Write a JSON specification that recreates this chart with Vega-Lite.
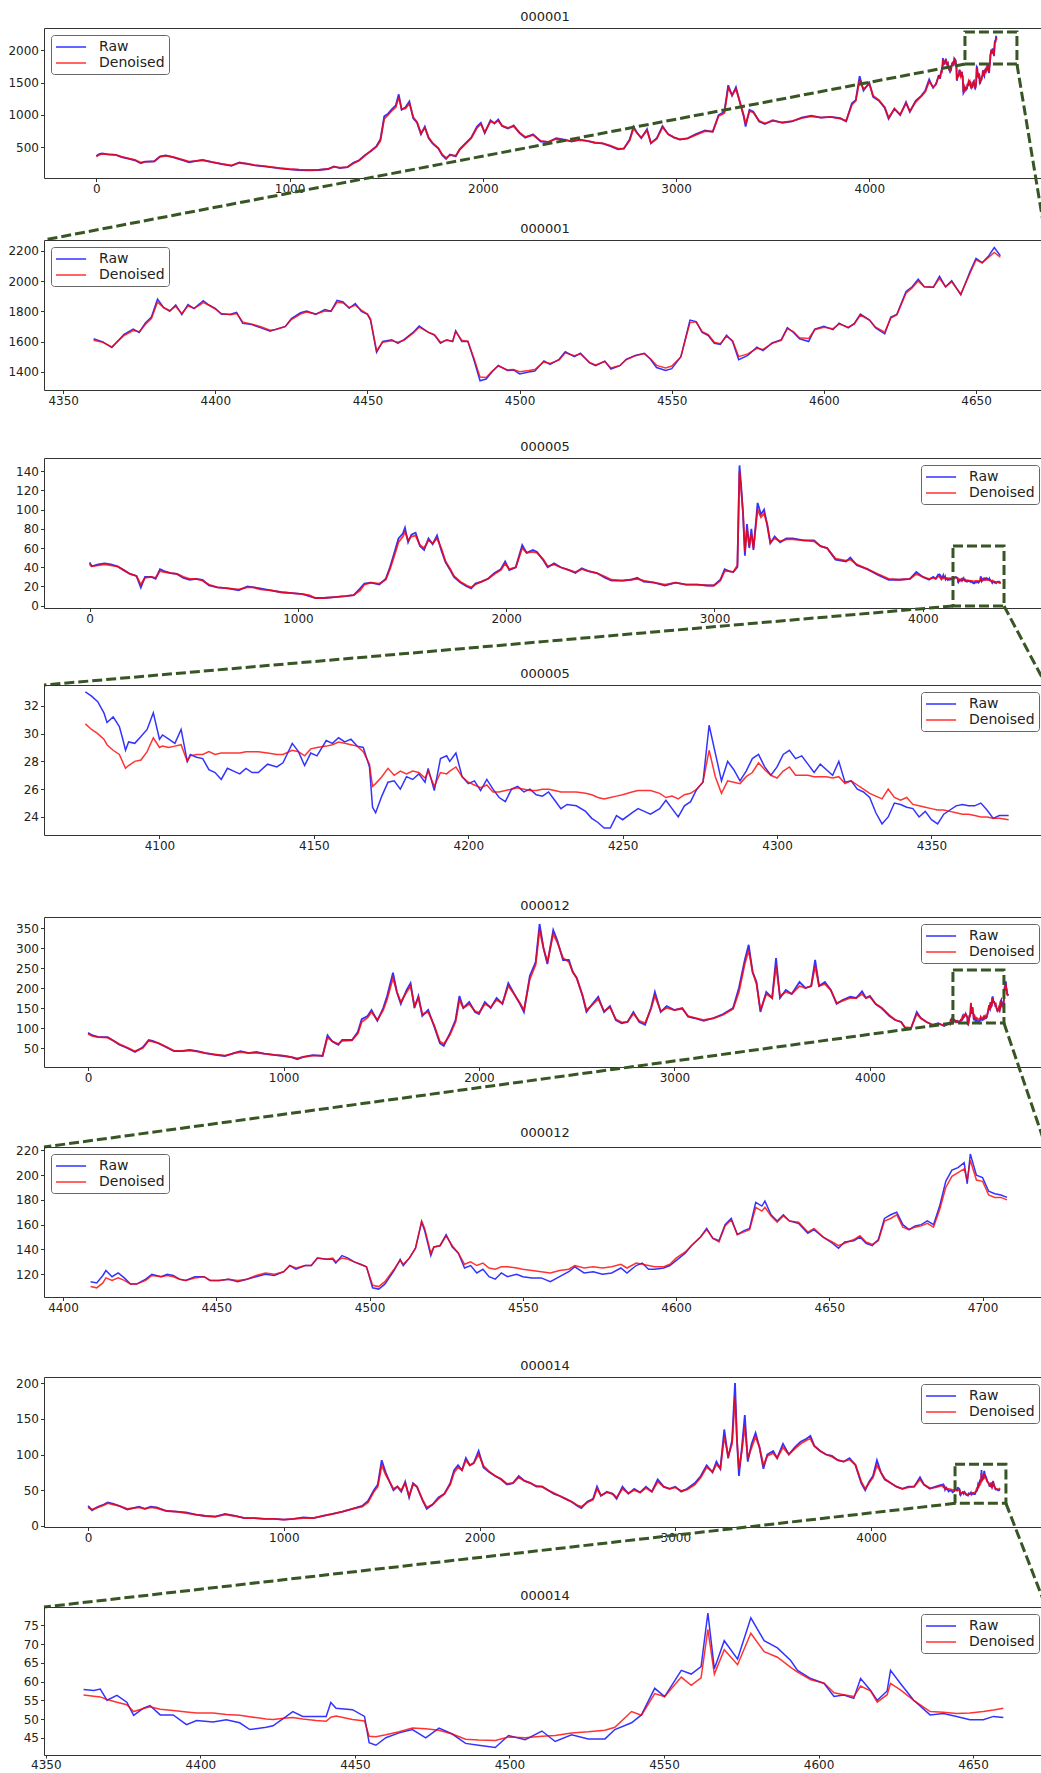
{
  "$schema": "https://vega.github.io/schema/vega-lite/v6.json",
  "background": "white",
  "padding": {"left": 7, "top": 10, "right": 0, "bottom": 0},
  "bounds": "flush",
  "spacing": 0,
  "resolve": {"scale": {"color": "independent"}, "legend": {"color": "independent"}},
  "config": {
    "font": "DejaVu Sans",
    "view": {"stroke": "#333", "strokeWidth": 1},
    "axis": {"domain": false, "grid": false, "tickColor": "#333", "tickSize": 3.5, "labelColor": "#222", "labelFontSize": 12, "labelPadding": 2, "format": "d"},
    "title": {"fontSize": 13, "fontWeight": "normal", "color": "#222", "offset": 4},
    "legend": {"padding": 4, "rowPadding": 1, "offset": 7, "strokeColor": "#666", "cornerRadius": 3, "fillColor": "white", "labelFontSize": 14, "labelColor": "#222", "symbolType": "M-1,0H3.3", "symbolSize": 196, "symbolStrokeWidth": 2, "symbolOpacity": 0.6, "labelOffset": 28},
    "line": {"opacity": 0.8}
  },
  "datasets": {
    "a1": [
      {"t":0,"r":365,"d":360},{"t":15,"r":395,"d":385},{"t":30,"r":405,"d":398},{"t":60,"r":390,"d":392},{"t":100,"r":385,"d":382},{"t":130,"r":350,"d":355},{"t":160,"r":330,"d":335},{"t":200,"r":300,"d":305},{"t":230,"r":255,"d":265},{"t":250,"r":275,"d":278},{"t":300,"r":285,"d":282},{"t":330,"r":360,"d":352},{"t":360,"r":375,"d":370},{"t":400,"r":345,"d":350},{"t":450,"r":300,"d":305},{"t":480,"r":270,"d":278},{"t":520,"r":290,"d":290},{"t":550,"r":305,"d":300},{"t":600,"r":270,"d":272},{"t":650,"r":240,"d":245},{"t":700,"r":215,"d":222},{"t":740,"r":265,"d":258},{"t":780,"r":245,"d":248},{"t":820,"r":220,"d":225},{"t":870,"r":205,"d":208},{"t":900,"r":195,"d":198},{"t":950,"r":175,"d":180},{"t":1000,"r":160,"d":165},{"t":1050,"r":150,"d":155},{"t":1100,"r":145,"d":150},{"t":1150,"r":150,"d":152},{"t":1200,"r":165,"d":168},{"t":1230,"r":205,"d":198},{"t":1260,"r":180,"d":185},{"t":1300,"r":195,"d":195},{"t":1330,"r":260,"d":250},{"t":1360,"r":300,"d":295},{"t":1390,"r":380,"d":370},{"t":1420,"r":440,"d":445},{"t":1450,"r":520,"d":510},{"t":1470,"r":620,"d":600},{"t":1490,"r":980,"d":940},{"t":1510,"r":1020,"d":1000},{"t":1530,"r":1090,"d":1070},{"t":1550,"r":1150,"d":1120},{"t":1565,"r":1320,"d":1280},{"t":1580,"r":1080,"d":1090},{"t":1600,"r":1120,"d":1100},{"t":1620,"r":1210,"d":1180},{"t":1640,"r":950,"d":970},{"t":1660,"r":880,"d":890},{"t":1680,"r":700,"d":720},{"t":1700,"r":820,"d":800},{"t":1720,"r":640,"d":650},{"t":1740,"r":560,"d":570},{"t":1770,"r":480,"d":490},{"t":1790,"r":380,"d":390},{"t":1810,"r":320,"d":335},{"t":1830,"r":390,"d":380},{"t":1860,"r":360,"d":370},{"t":1880,"r":470,"d":460},{"t":1910,"r":560,"d":550},{"t":1940,"r":650,"d":640},{"t":1970,"r":820,"d":800},{"t":1990,"r":880,"d":860},{"t":2010,"r":720,"d":735},{"t":2040,"r":920,"d":900},{"t":2060,"r":870,"d":875},{"t":2080,"r":930,"d":910},{"t":2100,"r":830,"d":835},{"t":2130,"r":790,"d":800},{"t":2160,"r":840,"d":825},{"t":2190,"r":720,"d":730},{"t":2220,"r":650,"d":660},{"t":2260,"r":700,"d":690},{"t":2300,"r":590,"d":600},{"t":2340,"r":580,"d":585},{"t":2380,"r":640,"d":630},{"t":2420,"r":620,"d":615},{"t":2460,"r":590,"d":595},{"t":2500,"r":620,"d":610},{"t":2540,"r":600,"d":600},{"t":2580,"r":570,"d":575},{"t":2620,"r":560,"d":560},{"t":2660,"r":520,"d":525},{"t":2700,"r":470,"d":480},{"t":2730,"r":480,"d":485},{"t":2760,"r":620,"d":610},{"t":2780,"r":820,"d":790},{"t":2800,"r":720,"d":710},{"t":2820,"r":640,"d":650},{"t":2850,"r":780,"d":760},{"t":2870,"r":560,"d":570},{"t":2900,"r":640,"d":630},{"t":2930,"r":830,"d":810},{"t":2960,"r":700,"d":700},{"t":2990,"r":650,"d":655},{"t":3020,"r":620,"d":625},{"t":3060,"r":640,"d":640},{"t":3100,"r":700,"d":690},{"t":3150,"r":760,"d":750},{"t":3190,"r":740,"d":745},{"t":3220,"r":1000,"d":980},{"t":3250,"r":1050,"d":1030},{"t":3270,"r":1460,"d":1420},{"t":3290,"r":1300,"d":1310},{"t":3310,"r":1430,"d":1400},{"t":3330,"r":1200,"d":1210},{"t":3350,"r":980,"d":1000},{"t":3360,"r":820,"d":860},{"t":3380,"r":1080,"d":1060},{"t":3400,"r":1050,"d":1040},{"t":3430,"r":900,"d":910},{"t":3460,"r":860,"d":870},{"t":3500,"r":920,"d":910},{"t":3550,"r":880,"d":885},{"t":3600,"r":900,"d":905},{"t":3650,"r":960,"d":950},{"t":3700,"r":990,"d":980},{"t":3750,"r":960,"d":960},{"t":3800,"r":970,"d":970},{"t":3850,"r":950,"d":945},{"t":3880,"r":900,"d":910},{"t":3910,"r":1180,"d":1160},{"t":3930,"r":1230,"d":1220},{"t":3950,"r":1600,"d":1540},{"t":3970,"r":1380,"d":1400},{"t":4000,"r":1500,"d":1480},{"t":4020,"r":1280,"d":1300},{"t":4050,"r":1220,"d":1230},{"t":4080,"r":1110,"d":1120},{"t":4100,"r":940,"d":960},{"t":4130,"r":1100,"d":1090},{"t":4160,"r":1000,"d":1010},{"t":4190,"r":1200,"d":1180},{"t":4210,"r":1050,"d":1060},{"t":4240,"r":1220,"d":1200},{"t":4270,"r":1300,"d":1290},{"t":4290,"r":1380,"d":1360},{"t":4310,"r":1550,"d":1520},{"t":4330,"r":1420,"d":1430},{"t":4345,"r":1480,"d":1470},{"t":4360,"r":1618,"d":1608}
    ],
    "b1": [
      {"t":4360,"r":1618,"d":1608},{"t":4363,"r":1598,"d":1595},{"t":4366,"r":1560,"d":1565},{"t":4370,"r":1648,"d":1640},{"t":4373,"r":1682,"d":1672},{"t":4375,"r":1660,"d":1665},{"t":4377,"r":1722,"d":1712},{"t":4379,"r":1762,"d":1752},{"t":4381,"r":1880,"d":1860},{"t":4383,"r":1825,"d":1825},{"t":4385,"r":1800,"d":1805},{"t":4387,"r":1842,"d":1832},{"t":4389,"r":1778,"d":1785},{"t":4391,"r":1845,"d":1835},{"t":4393,"r":1818,"d":1820},{"t":4395,"r":1852,"d":1842},{"t":4396,"r":1870,"d":1858},{"t":4398,"r":1840,"d":1840},{"t":4400,"r":1820,"d":1815},{"t":4402,"r":1780,"d":1785},{"t":4405,"r":1780,"d":1778},{"t":4407,"r":1792,"d":1786},{"t":4409,"r":1720,"d":1730},{"t":4412,"r":1712,"d":1715},{"t":4415,"r":1690,"d":1698},{"t":4418,"r":1668,"d":1675},{"t":4420,"r":1682,"d":1680},{"t":4423,"r":1700,"d":1698},{"t":4425,"r":1752,"d":1745},{"t":4428,"r":1790,"d":1782},{"t":4430,"r":1802,"d":1795},{"t":4433,"r":1780,"d":1782},{"t":4436,"r":1812,"d":1802},{"t":4438,"r":1800,"d":1800},{"t":4440,"r":1872,"d":1860},{"t":4442,"r":1862,"d":1855},{"t":4444,"r":1820,"d":1825},{"t":4446,"r":1852,"d":1840},{"t":4448,"r":1800,"d":1808},{"t":4450,"r":1780,"d":1782},{"t":4451,"r":1742,"d":1750},{"t":4453,"r":1528,"d":1540},{"t":4455,"r":1600,"d":1595},{"t":4458,"r":1612,"d":1605},{"t":4460,"r":1588,"d":1595},{"t":4462,"r":1612,"d":1608},{"t":4465,"r":1660,"d":1655},{"t":4467,"r":1702,"d":1695},{"t":4470,"r":1660,"d":1662},{"t":4472,"r":1642,"d":1645},{"t":4474,"r":1588,"d":1595},{"t":4476,"r":1612,"d":1608},{"t":4478,"r":1600,"d":1602},{"t":4479,"r":1672,"d":1665},{"t":4481,"r":1600,"d":1608},{"t":4483,"r":1600,"d":1602},{"t":4485,"r":1478,"d":1490},{"t":4487,"r":1340,"d":1365},{"t":4489,"r":1352,"d":1362},{"t":4491,"r":1400,"d":1405},{"t":4493,"r":1442,"d":1438},{"t":4496,"r":1408,"d":1412},{"t":4498,"r":1412,"d":1415},{"t":4500,"r":1385,"d":1400},{"t":4503,"r":1398,"d":1408},{"t":4505,"r":1405,"d":1415},{"t":4508,"r":1472,"d":1465},{"t":4510,"r":1448,"d":1455},{"t":4513,"r":1482,"d":1478},{"t":4515,"r":1532,"d":1525},{"t":4518,"r":1500,"d":1506},{"t":4520,"r":1522,"d":1518},{"t":4523,"r":1458,"d":1462},{"t":4525,"r":1440,"d":1445},{"t":4528,"r":1470,"d":1468},{"t":4530,"r":1418,"d":1425},{"t":4533,"r":1440,"d":1442},{"t":4535,"r":1482,"d":1478},{"t":4538,"r":1508,"d":1505},{"t":4541,"r":1522,"d":1520},{"t":4543,"r":1482,"d":1486},{"t":4545,"r":1428,"d":1442},{"t":4548,"r":1408,"d":1425},{"t":4550,"r":1420,"d":1438},{"t":4553,"r":1500,"d":1498},{"t":4556,"r":1742,"d":1725},{"t":4558,"r":1732,"d":1730},{"t":4560,"r":1660,"d":1665},{"t":4562,"r":1640,"d":1645},{"t":4564,"r":1588,"d":1595},{"t":4566,"r":1580,"d":1585},{"t":4568,"r":1642,"d":1635},{"t":4570,"r":1600,"d":1605},{"t":4572,"r":1480,"d":1500},{"t":4575,"r":1508,"d":1518},{"t":4578,"r":1562,"d":1555},{"t":4580,"r":1540,"d":1548},{"t":4583,"r":1590,"d":1588},{"t":4586,"r":1612,"d":1608},{"t":4588,"r":1692,"d":1685},{"t":4590,"r":1660,"d":1665},{"t":4592,"r":1618,"d":1625},{"t":4595,"r":1600,"d":1620},{"t":4597,"r":1682,"d":1678},{"t":4600,"r":1700,"d":1695},{"t":4603,"r":1678,"d":1685},{"t":4605,"r":1722,"d":1715},{"t":4608,"r":1690,"d":1695},{"t":4610,"r":1720,"d":1715},{"t":4612,"r":1782,"d":1775},{"t":4615,"r":1742,"d":1742},{"t":4617,"r":1690,"d":1695},{"t":4620,"r":1650,"d":1662},{"t":4622,"r":1762,"d":1755},{"t":4624,"r":1780,"d":1778},{"t":4627,"r":1932,"d":1920},{"t":4629,"r":1962,"d":1955},{"t":4631,"r":2012,"d":2000},{"t":4633,"r":1962,"d":1962},{"t":4636,"r":1960,"d":1960},{"t":4638,"r":2032,"d":2018},{"t":4640,"r":1962,"d":1962},{"t":4642,"r":2002,"d":1995},{"t":4645,"r":1908,"d":1915},{"t":4648,"r":2062,"d":2050},{"t":4650,"r":2150,"d":2140},{"t":4652,"r":2122,"d":2120},{"t":4654,"r":2162,"d":2155},{"t":4656,"r":2222,"d":2190},{"t":4658,"r":2168,"d":2158}
    ],
    "a3": [
      {"t":0,"r":45,"d":43},{"t":10,"r":41,"d":41},{"t":41,"r":43,"d":42},{"t":72,"r":44,"d":43},{"t":102,"r":43,"d":42},{"t":133,"r":41,"d":41},{"t":164,"r":37,"d":37},{"t":194,"r":33,"d":33},{"t":225,"r":31,"d":31},{"t":246,"r":19,"d":22},{"t":266,"r":30,"d":29},{"t":297,"r":30,"d":30},{"t":317,"r":28,"d":29},{"t":338,"r":38,"d":36},{"t":358,"r":36,"d":35},{"t":389,"r":34,"d":34},{"t":419,"r":33,"d":33},{"t":450,"r":29,"d":30},{"t":481,"r":27,"d":28},{"t":512,"r":28,"d":28},{"t":542,"r":27,"d":26},{"t":573,"r":21,"d":22},{"t":614,"r":19,"d":19},{"t":665,"r":18,"d":18},{"t":716,"r":16,"d":17},{"t":757,"r":20,"d":19},{"t":788,"r":19,"d":19},{"t":818,"r":18,"d":17},{"t":870,"r":16,"d":16},{"t":921,"r":14,"d":14},{"t":972,"r":13,"d":13},{"t":1023,"r":12,"d":12},{"t":1054,"r":10,"d":11},{"t":1084,"r":8,"d":8},{"t":1125,"r":8,"d":8},{"t":1176,"r":9,"d":9},{"t":1228,"r":10,"d":10},{"t":1268,"r":11,"d":11},{"t":1299,"r":18,"d":16},{"t":1319,"r":23,"d":22},{"t":1350,"r":24,"d":24},{"t":1391,"r":22,"d":23},{"t":1422,"r":28,"d":27},{"t":1442,"r":40,"d":38},{"t":1463,"r":55,"d":52},{"t":1483,"r":70,"d":66},{"t":1504,"r":75,"d":72},{"t":1514,"r":81,"d":77},{"t":1529,"r":66,"d":68},{"t":1545,"r":74,"d":72},{"t":1565,"r":76,"d":73},{"t":1586,"r":62,"d":63},{"t":1606,"r":58,"d":60},{"t":1627,"r":70,"d":68},{"t":1647,"r":64,"d":65},{"t":1668,"r":73,"d":70},{"t":1688,"r":58,"d":60},{"t":1709,"r":45,"d":46},{"t":1729,"r":38,"d":39},{"t":1749,"r":30,"d":31},{"t":1780,"r":24,"d":25},{"t":1811,"r":20,"d":21},{"t":1832,"r":18,"d":19},{"t":1852,"r":23,"d":22},{"t":1882,"r":25,"d":25},{"t":1913,"r":28,"d":28},{"t":1944,"r":34,"d":33},{"t":1974,"r":38,"d":37},{"t":1995,"r":46,"d":44},{"t":2015,"r":37,"d":38},{"t":2046,"r":40,"d":40},{"t":2077,"r":63,"d":60},{"t":2098,"r":55,"d":55},{"t":2128,"r":58,"d":56},{"t":2148,"r":56,"d":55},{"t":2179,"r":47,"d":48},{"t":2199,"r":40,"d":41},{"t":2230,"r":44,"d":43},{"t":2261,"r":40,"d":40},{"t":2302,"r":37,"d":37},{"t":2332,"r":34,"d":35},{"t":2363,"r":39,"d":38},{"t":2394,"r":36,"d":36},{"t":2435,"r":34,"d":34},{"t":2476,"r":29,"d":30},{"t":2506,"r":26,"d":27},{"t":2558,"r":26,"d":26},{"t":2598,"r":27,"d":27},{"t":2629,"r":29,"d":28},{"t":2660,"r":25,"d":26},{"t":2711,"r":24,"d":24},{"t":2762,"r":21,"d":22},{"t":2813,"r":24,"d":24},{"t":2864,"r":22,"d":22},{"t":2916,"r":22,"d":22},{"t":2967,"r":21,"d":21},{"t":2997,"r":21,"d":21},{"t":3028,"r":27,"d":26},{"t":3049,"r":38,"d":36},{"t":3069,"r":36,"d":36},{"t":3090,"r":35,"d":35},{"t":3110,"r":40,"d":42},{"t":3120,"r":146,"d":140},{"t":3128,"r":125,"d":120},{"t":3137,"r":95,"d":98},{"t":3146,"r":52,"d":56},{"t":3156,"r":85,"d":80},{"t":3167,"r":60,"d":62},{"t":3177,"r":80,"d":75},{"t":3187,"r":58,"d":60},{"t":3207,"r":107,"d":100},{"t":3223,"r":95,"d":92},{"t":3238,"r":100,"d":96},{"t":3253,"r":84,"d":85},{"t":3268,"r":65,"d":66},{"t":3289,"r":72,"d":70},{"t":3315,"r":66,"d":67},{"t":3345,"r":70,"d":69},{"t":3376,"r":70,"d":69},{"t":3427,"r":68,"d":68},{"t":3478,"r":68,"d":67},{"t":3509,"r":62,"d":62},{"t":3540,"r":60,"d":60},{"t":3581,"r":48,"d":49},{"t":3632,"r":46,"d":47},{"t":3652,"r":50,"d":48},{"t":3683,"r":42,"d":43},{"t":3734,"r":38,"d":38},{"t":3785,"r":32,"d":33},{"t":3836,"r":27,"d":28},{"t":3887,"r":27,"d":27},{"t":3938,"r":28,"d":28},{"t":3969,"r":35,"d":33},{"t":4000,"r":30,"d":30},{"t":4030,"r":27,"d":28},{"t":4050,"r":30,"d":29},{"t":4062,"r":28,"d":28},{"t":4076,"r":33,"d":30.7}
    ],
    "b3": [
      {"t":4076,"r":33.0,"d":30.7},{"t":4078,"r":32.7,"d":30.3},{"t":4080,"r":32.3,"d":30.0},{"t":4082,"r":31.5,"d":29.6},{"t":4083,"r":30.8,"d":29.2},{"t":4085,"r":31.2,"d":28.8},{"t":4087,"r":30.5,"d":28.5},{"t":4088,"r":29.7,"d":28.0},{"t":4089,"r":28.8,"d":27.5},{"t":4090,"r":29.4,"d":27.7},{"t":4092,"r":29.3,"d":28.0},{"t":4094,"r":29.8,"d":28.1},{"t":4096,"r":30.3,"d":28.7},{"t":4098,"r":31.5,"d":29.7},{"t":4100,"r":29.6,"d":29.0},{"t":4101,"r":29.9,"d":29.1},{"t":4103,"r":29.6,"d":29.0},{"t":4105,"r":29.3,"d":29.1},{"t":4107,"r":30.3,"d":29.2},{"t":4109,"r":28.0,"d":28.0},{"t":4110,"r":28.5,"d":28.4},{"t":4112,"r":28.3,"d":28.5},{"t":4114,"r":28.2,"d":28.5},{"t":4116,"r":27.4,"d":28.7},{"t":4118,"r":27.2,"d":28.5},{"t":4120,"r":26.7,"d":28.6},{"t":4122,"r":27.5,"d":28.6},{"t":4124,"r":27.3,"d":28.6},{"t":4126,"r":27.1,"d":28.6},{"t":4128,"r":27.5,"d":28.7},{"t":4130,"r":27.2,"d":28.7},{"t":4132,"r":27.2,"d":28.7},{"t":4135,"r":27.8,"d":28.6},{"t":4138,"r":27.6,"d":28.5},{"t":4140,"r":27.9,"d":28.5},{"t":4143,"r":29.3,"d":28.8},{"t":4145,"r":28.7,"d":28.7},{"t":4147,"r":27.7,"d":28.4},{"t":4149,"r":28.6,"d":28.9},{"t":4151,"r":28.4,"d":29.0},{"t":4154,"r":29.5,"d":29.1},{"t":4156,"r":29.3,"d":29.2},{"t":4158,"r":29.7,"d":29.4},{"t":4160,"r":29.4,"d":29.3},{"t":4162,"r":29.6,"d":29.2},{"t":4164,"r":29.1,"d":29.1},{"t":4166,"r":29.0,"d":28.7},{"t":4168,"r":27.6,"d":27.8},{"t":4169,"r":24.7,"d":26.2},{"t":4170,"r":24.3,"d":26.4},{"t":4172,"r":25.5,"d":26.9},{"t":4174,"r":26.5,"d":27.5},{"t":4176,"r":26.6,"d":27.0},{"t":4178,"r":26.0,"d":27.3},{"t":4180,"r":26.9,"d":27.1},{"t":4182,"r":26.7,"d":27.3},{"t":4184,"r":27.1,"d":27.2},{"t":4186,"r":26.5,"d":26.8},{"t":4187,"r":27.5,"d":27.3},{"t":4189,"r":25.9,"d":26.2},{"t":4191,"r":28.2,"d":27.2},{"t":4193,"r":28.4,"d":27.1},{"t":4194,"r":28.0,"d":27.3},{"t":4196,"r":28.6,"d":27.6},{"t":4198,"r":26.9,"d":26.9},{"t":4200,"r":26.4,"d":26.5},{"t":4202,"r":26.6,"d":26.3},{"t":4204,"r":25.9,"d":26.1},{"t":4206,"r":26.7,"d":26.3},{"t":4208,"r":26.0,"d":25.8},{"t":4210,"r":25.4,"d":25.8},{"t":4212,"r":25.1,"d":25.9},{"t":4214,"r":26.0,"d":26.0},{"t":4216,"r":26.2,"d":26.1},{"t":4218,"r":25.8,"d":26.0},{"t":4220,"r":26.0,"d":25.9},{"t":4222,"r":25.6,"d":25.9},{"t":4224,"r":25.5,"d":26.0},{"t":4226,"r":25.8,"d":26.0},{"t":4228,"r":25.2,"d":25.9},{"t":4230,"r":24.6,"d":25.8},{"t":4232,"r":24.9,"d":25.8},{"t":4235,"r":24.8,"d":25.8},{"t":4238,"r":24.4,"d":25.7},{"t":4240,"r":23.9,"d":25.6},{"t":4242,"r":23.6,"d":25.4},{"t":4244,"r":23.2,"d":25.3},{"t":4246,"r":23.2,"d":25.4},{"t":4248,"r":24.1,"d":25.5},{"t":4250,"r":23.8,"d":25.6},{"t":4253,"r":24.3,"d":25.8},{"t":4255,"r":24.6,"d":25.9},{"t":4257,"r":24.4,"d":25.9},{"t":4259,"r":24.2,"d":25.9},{"t":4262,"r":24.6,"d":25.7},{"t":4264,"r":25.2,"d":25.4},{"t":4266,"r":24.6,"d":25.5},{"t":4268,"r":24.0,"d":25.3},{"t":4270,"r":24.8,"d":25.6},{"t":4272,"r":25.1,"d":25.7},{"t":4274,"r":26.0,"d":26.0},{"t":4276,"r":26.5,"d":26.5},{"t":4278,"r":30.6,"d":28.8},{"t":4280,"r":28.6,"d":26.9},{"t":4282,"r":26.6,"d":25.7},{"t":4284,"r":28.0,"d":26.6},{"t":4286,"r":27.4,"d":26.5},{"t":4288,"r":26.6,"d":26.4},{"t":4290,"r":27.3,"d":26.9},{"t":4292,"r":28.2,"d":27.2},{"t":4294,"r":28.5,"d":27.9},{"t":4296,"r":27.6,"d":27.4},{"t":4298,"r":27.0,"d":27.0},{"t":4300,"r":27.6,"d":26.8},{"t":4302,"r":28.5,"d":27.3},{"t":4304,"r":28.8,"d":27.6},{"t":4306,"r":28.2,"d":27.0},{"t":4308,"r":28.4,"d":27.0},{"t":4310,"r":27.8,"d":27.0},{"t":4312,"r":27.2,"d":26.9},{"t":4314,"r":27.8,"d":26.9},{"t":4316,"r":27.4,"d":26.9},{"t":4318,"r":27.0,"d":26.8},{"t":4320,"r":28.0,"d":26.9},{"t":4322,"r":26.5,"d":26.4},{"t":4324,"r":26.6,"d":26.6},{"t":4326,"r":26.0,"d":26.3},{"t":4328,"r":25.8,"d":26.0},{"t":4330,"r":25.4,"d":25.7},{"t":4332,"r":24.3,"d":25.5},{"t":4334,"r":23.5,"d":25.3},{"t":4336,"r":24.0,"d":26.0},{"t":4338,"r":25.0,"d":25.4},{"t":4340,"r":24.9,"d":25.2},{"t":4342,"r":24.7,"d":25.4},{"t":4344,"r":24.6,"d":24.9},{"t":4346,"r":24.0,"d":24.8},{"t":4348,"r":24.4,"d":24.7},{"t":4350,"r":23.8,"d":24.6},{"t":4352,"r":23.5,"d":24.5},{"t":4354,"r":24.2,"d":24.5},{"t":4356,"r":24.5,"d":24.4},{"t":4358,"r":24.8,"d":24.3},{"t":4360,"r":24.9,"d":24.2},{"t":4362,"r":24.8,"d":24.2},{"t":4364,"r":24.8,"d":24.1},{"t":4366,"r":25.0,"d":24.0},{"t":4368,"r":24.5,"d":24.0},{"t":4370,"r":23.9,"d":23.9},{"t":4372,"r":24.1,"d":23.9},{"t":4375,"r":24.1,"d":23.8}
    ],
    "a5": [
      {"t":0,"r":88,"d":85},{"t":20,"r":82,"d":80},{"t":50,"r":78,"d":77},{"t":100,"r":77,"d":76},{"t":130,"r":68,"d":68},{"t":160,"r":58,"d":60},{"t":200,"r":50,"d":51},{"t":240,"r":40,"d":42},{"t":280,"r":52,"d":50},{"t":310,"r":70,"d":68},{"t":330,"r":68,"d":66},{"t":360,"r":62,"d":62},{"t":400,"r":52,"d":53},{"t":440,"r":42,"d":43},{"t":480,"r":42,"d":43},{"t":520,"r":45,"d":44},{"t":560,"r":42,"d":41},{"t":600,"r":37,"d":37},{"t":650,"r":33,"d":34},{"t":700,"r":30,"d":31},{"t":750,"r":38,"d":37},{"t":780,"r":42,"d":40},{"t":820,"r":37,"d":38},{"t":860,"r":40,"d":38},{"t":900,"r":36,"d":36},{"t":950,"r":33,"d":33},{"t":1000,"r":30,"d":31},{"t":1040,"r":27,"d":27},{"t":1070,"r":22,"d":24},{"t":1100,"r":28,"d":27},{"t":1150,"r":32,"d":31},{"t":1200,"r":30,"d":31},{"t":1225,"r":82,"d":76},{"t":1250,"r":66,"d":67},{"t":1280,"r":58,"d":60},{"t":1300,"r":70,"d":68},{"t":1350,"r":70,"d":69},{"t":1380,"r":90,"d":86},{"t":1400,"r":122,"d":115},{"t":1430,"r":130,"d":126},{"t":1450,"r":145,"d":140},{"t":1480,"r":118,"d":120},{"t":1510,"r":150,"d":145},{"t":1530,"r":180,"d":172},{"t":1560,"r":238,"d":225},{"t":1580,"r":190,"d":190},{"t":1600,"r":160,"d":165},{"t":1630,"r":195,"d":190},{"t":1650,"r":212,"d":205},{"t":1670,"r":150,"d":155},{"t":1690,"r":180,"d":175},{"t":1710,"r":130,"d":135},{"t":1740,"r":145,"d":140},{"t":1770,"r":105,"d":108},{"t":1800,"r":62,"d":66},{"t":1820,"r":55,"d":60},{"t":1850,"r":85,"d":82},{"t":1880,"r":120,"d":115},{"t":1900,"r":180,"d":170},{"t":1920,"r":150,"d":150},{"t":1950,"r":165,"d":160},{"t":1980,"r":140,"d":142},{"t":2000,"r":135,"d":138},{"t":2030,"r":165,"d":160},{"t":2060,"r":150,"d":152},{"t":2090,"r":175,"d":170},{"t":2120,"r":160,"d":162},{"t":2150,"r":212,"d":205},{"t":2180,"r":185,"d":185},{"t":2210,"r":160,"d":162},{"t":2230,"r":140,"d":145},{"t":2260,"r":230,"d":222},{"t":2290,"r":265,"d":258},{"t":2310,"r":360,"d":345},{"t":2330,"r":300,"d":300},{"t":2350,"r":260,"d":265},{"t":2380,"r":345,"d":335},{"t":2400,"r":320,"d":315},{"t":2430,"r":270,"d":275},{"t":2460,"r":270,"d":265},{"t":2480,"r":240,"d":240},{"t":2500,"r":225,"d":225},{"t":2530,"r":180,"d":182},{"t":2550,"r":140,"d":145},{"t":2580,"r":160,"d":158},{"t":2610,"r":178,"d":172},{"t":2640,"r":140,"d":142},{"t":2670,"r":155,"d":152},{"t":2700,"r":120,"d":122},{"t":2730,"r":112,"d":114},{"t":2760,"r":115,"d":115},{"t":2790,"r":140,"d":136},{"t":2820,"r":115,"d":118},{"t":2850,"r":108,"d":112},{"t":2880,"r":150,"d":148},{"t":2900,"r":190,"d":180},{"t":2930,"r":140,"d":142},{"t":2960,"r":155,"d":150},{"t":3000,"r":145,"d":145},{"t":3040,"r":150,"d":148},{"t":3070,"r":128,"d":130},{"t":3100,"r":125,"d":126},{"t":3150,"r":118,"d":120},{"t":3200,"r":125,"d":124},{"t":3250,"r":135,"d":133},{"t":3300,"r":150,"d":148},{"t":3330,"r":200,"d":190},{"t":3360,"r":270,"d":260},{"t":3380,"r":308,"d":295},{"t":3400,"r":240,"d":240},{"t":3420,"r":215,"d":210},{"t":3440,"r":140,"d":145},{"t":3470,"r":190,"d":185},{"t":3500,"r":175,"d":175},{"t":3520,"r":275,"d":255},{"t":3540,"r":175,"d":180},{"t":3570,"r":195,"d":190},{"t":3600,"r":185,"d":185},{"t":3640,"r":215,"d":205},{"t":3670,"r":200,"d":200},{"t":3700,"r":205,"d":205},{"t":3720,"r":270,"d":255},{"t":3740,"r":205,"d":205},{"t":3770,"r":215,"d":210},{"t":3800,"r":195,"d":195},{"t":3830,"r":160,"d":162},{"t":3860,"r":170,"d":168},{"t":3900,"r":178,"d":175},{"t":3930,"r":175,"d":175},{"t":3960,"r":192,"d":185},{"t":3980,"r":175,"d":175},{"t":4000,"r":180,"d":178},{"t":4030,"r":160,"d":160},{"t":4060,"r":150,"d":150},{"t":4100,"r":130,"d":132},{"t":4130,"r":120,"d":120},{"t":4160,"r":115,"d":115},{"t":4180,"r":100,"d":102},{"t":4210,"r":98,"d":100},{"t":4240,"r":140,"d":135},{"t":4260,"r":125,"d":125},{"t":4290,"r":115,"d":115},{"t":4320,"r":108,"d":108},{"t":4350,"r":112,"d":111},{"t":4380,"r":105,"d":106},{"t":4409,"r":114,"d":110}
    ],
    "b5": [
      {"t":4409,"r":114,"d":110},{"t":4411,"r":113,"d":109},{"t":4413,"r":119,"d":113},{"t":4414,"r":123,"d":117},{"t":4416,"r":118,"d":115},{"t":4418,"r":121,"d":117},{"t":4420,"r":117,"d":115},{"t":4422,"r":112,"d":112},{"t":4424,"r":112,"d":112},{"t":4427,"r":116,"d":115},{"t":4429,"r":120,"d":119},{"t":4432,"r":118,"d":118},{"t":4434,"r":120,"d":119},{"t":4436,"r":119,"d":118},{"t":4438,"r":116,"d":116},{"t":4440,"r":115,"d":115},{"t":4443,"r":118,"d":117},{"t":4446,"r":118,"d":118},{"t":4448,"r":115,"d":115},{"t":4451,"r":115,"d":115},{"t":4454,"r":116,"d":116},{"t":4457,"r":114,"d":115},{"t":4460,"r":116,"d":116},{"t":4463,"r":118,"d":119},{"t":4466,"r":120,"d":121},{"t":4469,"r":119,"d":120},{"t":4472,"r":122,"d":122},{"t":4474,"r":127,"d":127},{"t":4476,"r":124,"d":125},{"t":4479,"r":127,"d":127},{"t":4481,"r":127,"d":127},{"t":4483,"r":133,"d":133},{"t":4486,"r":132,"d":132},{"t":4488,"r":132,"d":133},{"t":4489,"r":129,"d":130},{"t":4491,"r":135,"d":133},{"t":4493,"r":133,"d":132},{"t":4495,"r":130,"d":130},{"t":4497,"r":128,"d":128},{"t":4499,"r":126,"d":126},{"t":4501,"r":109,"d":111},{"t":4503,"r":108,"d":110},{"t":4505,"r":112,"d":114},{"t":4508,"r":123,"d":124},{"t":4510,"r":132,"d":131},{"t":4511,"r":127,"d":128},{"t":4513,"r":133,"d":133},{"t":4515,"r":141,"d":141},{"t":4517,"r":162,"d":163},{"t":4518,"r":155,"d":157},{"t":4520,"r":135,"d":137},{"t":4521,"r":142,"d":142},{"t":4523,"r":143,"d":143},{"t":4525,"r":152,"d":151},{"t":4527,"r":142,"d":143},{"t":4529,"r":137,"d":137},{"t":4531,"r":125,"d":128},{"t":4533,"r":127,"d":130},{"t":4535,"r":121,"d":127},{"t":4537,"r":124,"d":129},{"t":4539,"r":118,"d":125},{"t":4541,"r":116,"d":124},{"t":4543,"r":121,"d":126},{"t":4545,"r":118,"d":126},{"t":4548,"r":120,"d":125},{"t":4550,"r":118,"d":124},{"t":4553,"r":117,"d":123},{"t":4556,"r":117,"d":122},{"t":4559,"r":114,"d":121},{"t":4562,"r":118,"d":123},{"t":4565,"r":122,"d":124},{"t":4567,"r":126,"d":127},{"t":4570,"r":121,"d":125},{"t":4573,"r":122,"d":126},{"t":4576,"r":120,"d":125},{"t":4579,"r":121,"d":126},{"t":4582,"r":125,"d":128},{"t":4584,"r":121,"d":125},{"t":4587,"r":127,"d":129},{"t":4589,"r":129,"d":128},{"t":4591,"r":124,"d":127},{"t":4593,"r":124,"d":126},{"t":4596,"r":125,"d":126},{"t":4598,"r":127,"d":128},{"t":4600,"r":131,"d":133},{"t":4603,"r":137,"d":138},{"t":4605,"r":143,"d":143},{"t":4608,"r":150,"d":150},{"t":4610,"r":157,"d":156},{"t":4612,"r":149,"d":149},{"t":4614,"r":147,"d":146},{"t":4616,"r":160,"d":159},{"t":4618,"r":165,"d":164},{"t":4620,"r":152,"d":152},{"t":4622,"r":155,"d":154},{"t":4624,"r":157,"d":156},{"t":4626,"r":178,"d":174},{"t":4628,"r":175,"d":171},{"t":4629,"r":179,"d":174},{"t":4631,"r":168,"d":167},{"t":4633,"r":163,"d":162},{"t":4635,"r":168,"d":167},{"t":4637,"r":163,"d":163},{"t":4640,"r":161,"d":162},{"t":4643,"r":153,"d":154},{"t":4645,"r":156,"d":157},{"t":4648,"r":150,"d":150},{"t":4651,"r":145,"d":146},{"t":4653,"r":141,"d":143},{"t":4655,"r":146,"d":145},{"t":4658,"r":147,"d":148},{"t":4660,"r":150,"d":151},{"t":4662,"r":145,"d":146},{"t":4664,"r":143,"d":144},{"t":4666,"r":148,"d":147},{"t":4668,"r":165,"d":163},{"t":4670,"r":168,"d":165},{"t":4672,"r":170,"d":168},{"t":4674,"r":160,"d":158},{"t":4676,"r":156,"d":156},{"t":4678,"r":159,"d":158},{"t":4680,"r":160,"d":159},{"t":4682,"r":163,"d":161},{"t":4684,"r":160,"d":158},{"t":4686,"r":175,"d":172},{"t":4688,"r":195,"d":190},{"t":4690,"r":204,"d":199},{"t":4692,"r":206,"d":202},{"t":4694,"r":210,"d":205},{"t":4695,"r":193,"d":196},{"t":4696,"r":217,"d":212},{"t":4698,"r":200,"d":196},{"t":4700,"r":198,"d":195},{"t":4702,"r":187,"d":184},{"t":4704,"r":185,"d":182},{"t":4706,"r":184,"d":182},{"t":4708,"r":182,"d":180}
    ],
    "a7": [
      {"t":0,"r":28,"d":26},{"t":20,"r":22,"d":23},{"t":50,"r":27,"d":26},{"t":80,"r":30,"d":29},{"t":100,"r":33,"d":32},{"t":130,"r":31,"d":30},{"t":160,"r":28,"d":28},{"t":200,"r":23,"d":24},{"t":230,"r":25,"d":25},{"t":260,"r":27,"d":26},{"t":290,"r":24,"d":24},{"t":320,"r":27,"d":26},{"t":350,"r":26,"d":25},{"t":400,"r":21,"d":21},{"t":450,"r":20,"d":20},{"t":500,"r":19,"d":18},{"t":550,"r":16,"d":16},{"t":600,"r":14,"d":14},{"t":650,"r":13,"d":13},{"t":700,"r":17,"d":16},{"t":750,"r":14,"d":14},{"t":800,"r":11,"d":11},{"t":850,"r":11,"d":11},{"t":900,"r":10,"d":10},{"t":950,"r":10,"d":10},{"t":1000,"r":9,"d":9},{"t":1050,"r":10,"d":10},{"t":1100,"r":12,"d":11},{"t":1150,"r":11,"d":11},{"t":1200,"r":14,"d":14},{"t":1250,"r":17,"d":17},{"t":1300,"r":20,"d":20},{"t":1350,"r":24,"d":24},{"t":1400,"r":28,"d":27},{"t":1430,"r":35,"d":33},{"t":1460,"r":50,"d":48},{"t":1480,"r":58,"d":55},{"t":1500,"r":92,"d":85},{"t":1520,"r":75,"d":72},{"t":1540,"r":62,"d":62},{"t":1560,"r":50,"d":52},{"t":1580,"r":55,"d":55},{"t":1600,"r":48,"d":50},{"t":1620,"r":62,"d":60},{"t":1640,"r":40,"d":42},{"t":1660,"r":60,"d":58},{"t":1680,"r":55,"d":55},{"t":1710,"r":35,"d":36},{"t":1730,"r":24,"d":26},{"t":1760,"r":30,"d":30},{"t":1790,"r":40,"d":38},{"t":1820,"r":45,"d":45},{"t":1850,"r":60,"d":58},{"t":1870,"r":78,"d":75},{"t":1890,"r":85,"d":82},{"t":1910,"r":78,"d":78},{"t":1930,"r":95,"d":92},{"t":1950,"r":85,"d":85},{"t":1970,"r":88,"d":88},{"t":1995,"r":105,"d":100},{"t":2020,"r":82,"d":84},{"t":2050,"r":75,"d":76},{"t":2080,"r":70,"d":70},{"t":2110,"r":65,"d":66},{"t":2140,"r":58,"d":59},{"t":2170,"r":60,"d":60},{"t":2200,"r":70,"d":68},{"t":2230,"r":63,"d":63},{"t":2260,"r":60,"d":60},{"t":2290,"r":55,"d":56},{"t":2320,"r":55,"d":55},{"t":2350,"r":50,"d":50},{"t":2380,"r":45,"d":46},{"t":2410,"r":42,"d":42},{"t":2440,"r":38,"d":38},{"t":2470,"r":34,"d":34},{"t":2500,"r":28,"d":29},{"t":2520,"r":25,"d":27},{"t":2550,"r":34,"d":33},{"t":2580,"r":38,"d":37},{"t":2600,"r":55,"d":52},{"t":2620,"r":42,"d":43},{"t":2650,"r":48,"d":47},{"t":2680,"r":45,"d":45},{"t":2700,"r":38,"d":40},{"t":2730,"r":55,"d":52},{"t":2760,"r":45,"d":46},{"t":2790,"r":52,"d":50},{"t":2820,"r":47,"d":47},{"t":2850,"r":55,"d":53},{"t":2880,"r":48,"d":48},{"t":2910,"r":65,"d":62},{"t":2940,"r":55,"d":55},{"t":2970,"r":52,"d":52},{"t":3000,"r":55,"d":54},{"t":3030,"r":48,"d":49},{"t":3060,"r":52,"d":51},{"t":3100,"r":60,"d":58},{"t":3130,"r":70,"d":68},{"t":3160,"r":85,"d":82},{"t":3190,"r":75,"d":76},{"t":3210,"r":90,"d":86},{"t":3230,"r":80,"d":80},{"t":3250,"r":135,"d":125},{"t":3270,"r":95,"d":98},{"t":3290,"r":120,"d":115},{"t":3305,"r":200,"d":180},{"t":3315,"r":120,"d":120},{"t":3325,"r":70,"d":80},{"t":3340,"r":110,"d":105},{"t":3355,"r":155,"d":140},{"t":3370,"r":90,"d":95},{"t":3390,"r":115,"d":110},{"t":3410,"r":130,"d":125},{"t":3430,"r":110,"d":110},{"t":3450,"r":80,"d":85},{"t":3470,"r":100,"d":98},{"t":3500,"r":105,"d":102},{"t":3520,"r":95,"d":95},{"t":3550,"r":115,"d":110},{"t":3580,"r":100,"d":100},{"t":3610,"r":110,"d":108},{"t":3640,"r":118,"d":115},{"t":3670,"r":122,"d":120},{"t":3690,"r":126,"d":122},{"t":3710,"r":112,"d":112},{"t":3740,"r":105,"d":105},{"t":3770,"r":100,"d":100},{"t":3800,"r":98,"d":97},{"t":3830,"r":92,"d":92},{"t":3860,"r":90,"d":90},{"t":3890,"r":95,"d":93},{"t":3920,"r":85,"d":86},{"t":3950,"r":60,"d":62},{"t":3970,"r":50,"d":52},{"t":3990,"r":62,"d":60},{"t":4010,"r":70,"d":68},{"t":4030,"r":92,"d":85},{"t":4050,"r":75,"d":75},{"t":4070,"r":65,"d":66},{"t":4100,"r":60,"d":60},{"t":4130,"r":55,"d":55},{"t":4160,"r":52,"d":52},{"t":4190,"r":55,"d":54},{"t":4220,"r":55,"d":55},{"t":4250,"r":68,"d":65},{"t":4270,"r":58,"d":58},{"t":4300,"r":52,"d":53},{"t":4330,"r":55,"d":54},{"t":4362,"r":57.9,"d":56.4}
    ],
    "b7": [
      {"t":4362.2,"r":57.9,"d":56.4},{"t":4365.5,"r":57.6,"d":56.1},{"t":4367.6,"r":58.0,"d":55.9},{"t":4369.8,"r":55.0,"d":55.2},{"t":4373,"r":56.3,"d":54.5},{"t":4376.2,"r":54.5,"d":53.8},{"t":4378.4,"r":51.0,"d":52.0},{"t":4381.6,"r":52.9,"d":52.8},{"t":4383.7,"r":53.6,"d":53.3},{"t":4387,"r":51.1,"d":52.6},{"t":4391.2,"r":51.1,"d":52.3},{"t":4395.5,"r":48.5,"d":51.9},{"t":4398.8,"r":49.6,"d":51.6},{"t":4404.1,"r":49.2,"d":51.6},{"t":4408.4,"r":49.8,"d":51.2},{"t":4412.7,"r":49.0,"d":51.0},{"t":4416,"r":47.2,"d":50.6},{"t":4421.3,"r":47.8,"d":50.0},{"t":4423.5,"r":48.2,"d":49.9},{"t":4427.8,"r":50.7,"d":50.3},{"t":4429.9,"r":52.0,"d":50.4},{"t":4433.1,"r":50.7,"d":50.0},{"t":4437.4,"r":50.7,"d":49.6},{"t":4440.7,"r":50.7,"d":49.4},{"t":4442.2,"r":54.4,"d":50.5},{"t":4443.9,"r":52.9,"d":50.8},{"t":4449.2,"r":52.5,"d":49.9},{"t":4453.1,"r":50.7,"d":49.5},{"t":4454.6,"r":43.7,"d":45.4},{"t":4456.8,"r":43.0,"d":45.3},{"t":4460,"r":45.0,"d":45.8},{"t":4464.3,"r":46.3,"d":46.6},{"t":4468.6,"r":47.2,"d":47.6},{"t":4472.9,"r":45.0,"d":47.4},{"t":4477.2,"r":47.6,"d":47.0},{"t":4481.5,"r":46.0,"d":46.0},{"t":4485.8,"r":43.5,"d":44.6},{"t":4490,"r":43.0,"d":44.4},{"t":4495.4,"r":42.4,"d":44.3},{"t":4499.7,"r":45.6,"d":45.2},{"t":4505.1,"r":44.5,"d":45.0},{"t":4510.5,"r":46.8,"d":45.4},{"t":4514.8,"r":44.0,"d":45.6},{"t":4520.1,"r":45.8,"d":46.3},{"t":4525.5,"r":44.7,"d":46.6},{"t":4530.9,"r":44.7,"d":47.0},{"t":4534.1,"r":47.2,"d":47.8},{"t":4539.5,"r":49.0,"d":52.0},{"t":4542.7,"r":51.1,"d":51.0},{"t":4547,"r":58.2,"d":56.8},{"t":4550.2,"r":56.0,"d":56.0},{"t":4555.6,"r":63.0,"d":61.2},{"t":4558.8,"r":62.0,"d":59.0},{"t":4562,"r":64.0,"d":61.0},{"t":4564.2,"r":78.3,"d":73.9},{"t":4566.3,"r":63.4,"d":62.0},{"t":4569.5,"r":70.9,"d":68.5},{"t":4573.8,"r":66.0,"d":64.5},{"t":4578.1,"r":77.0,"d":72.9},{"t":4582.4,"r":70.9,"d":68.0},{"t":4586.7,"r":69.0,"d":66.5},{"t":4591,"r":65.6,"d":63.8},{"t":4593.2,"r":63.0,"d":62.5},{"t":4597.5,"r":60.8,"d":60.5},{"t":4601.8,"r":59.5,"d":59.6},{"t":4605,"r":56.0,"d":57.0},{"t":4608.2,"r":56.4,"d":56.5},{"t":4611.4,"r":55.5,"d":56.0},{"t":4613.6,"r":60.8,"d":58.8},{"t":4616.8,"r":57.7,"d":57.5},{"t":4619,"r":55.0,"d":54.5},{"t":4622.2,"r":57.5,"d":56.5},{"t":4623.3,"r":63.0,"d":59.5},{"t":4626.5,"r":59.5,"d":57.8},{"t":4630.8,"r":55.0,"d":55.0},{"t":4636.1,"r":51.1,"d":52.0},{"t":4640.4,"r":51.5,"d":51.8},{"t":4644.7,"r":50.7,"d":51.5},{"t":4649,"r":49.8,"d":51.6},{"t":4653.3,"r":49.8,"d":52.0},{"t":4656.6,"r":50.7,"d":52.4},{"t":4659.8,"r":50.4,"d":52.9}
    ]
  },
  "vconcat": [
    {
      "width": 1002, "height": 150,
      "title": "000001",
      "encoding": {
        "x": {"field": "t", "type": "quantitative", "title": null, "scale": {"domain": [-270.6, 4914.4], "nice": false, "zero": false}, "axis": {"values": [0, 1000, 2000, 3000, 4000]}},
        "y": {"field": "v", "type": "quantitative", "title": null, "scale": {"domain": [26, 2345], "nice": false, "zero": false}, "axis": {"values": [500, 1000, 1500, 2000]}}
      },
      "layer": [
        {"data": {"name": "a1"}, "transform": [{"fold": ["r", "d"], "as": ["k", "v"]}], "mark": {"type": "line", "strokeWidth": 1.8},
         "encoding": {"color": {"field": "k", "type": "nominal", "scale": {"domain": ["r", "d"], "range": ["#0000ff", "#ff0000"]}, "legend": {"orient": "top-left", "title": null, "labelExpr": "datum.label == 'r' ? 'Raw' : 'Denoised'"}}}},
        {"data": {"name": "b1"}, "transform": [{"fold": ["r", "d"], "as": ["k", "v"]}], "mark": {"type": "line", "strokeWidth": 1.8},
         "encoding": {"color": {"field": "k", "type": "nominal", "scale": {"domain": ["r", "d"], "range": ["#0000ff", "#ff0000"]}, "legend": {"orient": "top-left", "title": null, "labelExpr": "datum.label == 'r' ? 'Raw' : 'Denoised'"}}}},
        {"data": {"values": [{"t": 4495, "v": 1788, "t2": -270.6, "v2": -932.5}, {"t": 4764, "v": 1788, "t2": 4914.4, "v2": -932.5}]},
         "mark": {"type": "rule", "color": "#375623", "strokeWidth": 3, "strokeDash": [10, 4]},
         "encoding": {"x2": {"field": "t2"}, "y2": {"field": "v2"}}},
        {"data": {"values": [{"t": 4495, "t2": 4764, "v": 1788, "v2": 2283}]},
         "mark": {"type": "rect", "filled": false, "color": "#375623", "strokeWidth": 3, "strokeDash": [10, 4]},
         "encoding": {"x2": {"field": "t2"}, "y2": {"field": "v2"}}}
      ]
    },
    {"width": 1002, "height": 62, "data": {"values": []}, "mark": "point", "view": {"stroke": null}},
    {
      "width": 1002, "height": 150,
      "title": "000001",
      "data": {"name": "b1"},
      "transform": [{"fold": ["r", "d"], "as": ["k", "v"]}],
      "mark": {"type": "line", "strokeWidth": 1.5},
      "encoding": {
        "x": {"field": "t", "type": "quantitative", "title": null, "scale": {"domain": [4343.7, 4673.0], "nice": false, "zero": false}, "axis": {"values": [4350, 4400, 4450, 4500, 4550, 4600, 4650]}},
        "y": {"field": "v", "type": "quantitative", "title": null, "scale": {"domain": [1279, 2272], "nice": false, "zero": false}, "axis": {"values": [1400, 1600, 1800, 2000, 2200]}},
        "color": {"field": "k", "type": "nominal", "scale": {"domain": ["r", "d"], "range": ["#0000ff", "#ff0000"]}, "legend": {"orient": "top-left", "title": null, "labelExpr": "datum.label == 'r' ? 'Raw' : 'Denoised'"}}
      }
    },
    {"width": 1002, "height": 68, "data": {"values": []}, "mark": "point", "view": {"stroke": null}},
    {
      "width": 1002, "height": 150,
      "title": "000005",
      "encoding": {
        "x": {"field": "t", "type": "quantitative", "title": null, "scale": {"domain": [-218.9, 4591.5], "nice": false, "zero": false}, "axis": {"values": [0, 1000, 2000, 3000, 4000]}},
        "y": {"field": "v", "type": "quantitative", "title": null, "scale": {"domain": [-2.4, 153.7], "nice": false, "zero": false}, "axis": {"values": [0, 20, 40, 60, 80, 100, 120, 140]}}
      },
      "layer": [
        {"data": {"name": "a3"}, "transform": [{"fold": ["r", "d"], "as": ["k", "v"]}], "mark": {"type": "line", "strokeWidth": 1.8},
         "encoding": {"color": {"field": "k", "type": "nominal", "scale": {"domain": ["r", "d"], "range": ["#0000ff", "#ff0000"]}, "legend": {"orient": "top-right", "title": null, "labelExpr": "datum.label == 'r' ? 'Raw' : 'Denoised'"}}}},
        {"data": {"name": "b3"}, "transform": [{"fold": ["r", "d"], "as": ["k", "v"]}], "mark": {"type": "line", "strokeWidth": 1.8},
         "encoding": {"color": {"field": "k", "type": "nominal", "scale": {"domain": ["r", "d"], "range": ["#0000ff", "#ff0000"]}, "legend": {"orient": "top-right", "title": null, "labelExpr": "datum.label == 'r' ? 'Raw' : 'Denoised'"}}}},
        {"data": {"values": [{"t": 4145, "v": -0.3, "t2": -218.9, "v2": -82.5}, {"t": 4390, "v": -0.3, "t2": 4591.5, "v2": -82.5}]},
         "mark": {"type": "rule", "color": "#375623", "strokeWidth": 3, "strokeDash": [10, 4]},
         "encoding": {"x2": {"field": "t2"}, "y2": {"field": "v2"}}},
        {"data": {"values": [{"t": 4145, "t2": 4390, "v": -0.3, "v2": 62.1}]},
         "mark": {"type": "rect", "filled": false, "color": "#375623", "strokeWidth": 3, "strokeDash": [10, 4]},
         "encoding": {"x2": {"field": "t2"}, "y2": {"field": "v2"}}}
      ]
    },
    {"width": 1002, "height": 77, "data": {"values": []}, "mark": "point", "view": {"stroke": null}},
    {
      "width": 1002, "height": 150,
      "title": "000005",
      "data": {"name": "b3"},
      "transform": [{"fold": ["r", "d"], "as": ["k", "v"]}],
      "mark": {"type": "line", "strokeWidth": 1.5},
      "encoding": {
        "x": {"field": "t", "type": "quantitative", "title": null, "scale": {"domain": [4062.6, 4387.1], "nice": false, "zero": false}, "axis": {"values": [4100, 4150, 4200, 4250, 4300, 4350]}},
        "y": {"field": "v", "type": "quantitative", "title": null, "scale": {"domain": [22.7, 33.5], "nice": false, "zero": false}, "axis": {"values": [24, 26, 28, 30, 32]}},
        "color": {"field": "k", "type": "nominal", "scale": {"domain": ["r", "d"], "range": ["#0000ff", "#ff0000"]}, "legend": {"orient": "top-right", "title": null, "labelExpr": "datum.label == 'r' ? 'Raw' : 'Denoised'"}}
      }
    },
    {"width": 1002, "height": 82, "data": {"values": []}, "mark": "point", "view": {"stroke": null}},
    {
      "width": 1002, "height": 150,
      "title": "000012",
      "encoding": {
        "x": {"field": "t", "type": "quantitative", "title": null, "scale": {"domain": [-225.6, 4901.2], "nice": false, "zero": false}, "axis": {"values": [0, 1000, 2000, 3000, 4000]}},
        "y": {"field": "v", "type": "quantitative", "title": null, "scale": {"domain": [2.5, 377.5], "nice": false, "zero": false}, "axis": {"values": [50, 100, 150, 200, 250, 300, 350]}}
      },
      "layer": [
        {"data": {"name": "a5"}, "transform": [{"fold": ["r", "d"], "as": ["k", "v"]}], "mark": {"type": "line", "strokeWidth": 1.8},
         "encoding": {"color": {"field": "k", "type": "nominal", "scale": {"domain": ["r", "d"], "range": ["#0000ff", "#ff0000"]}, "legend": {"orient": "top-right", "title": null, "labelExpr": "datum.label == 'r' ? 'Raw' : 'Denoised'"}}}},
        {"data": {"name": "b5"}, "transform": [{"fold": ["r", "d"], "as": ["k", "v"]}], "mark": {"type": "line", "strokeWidth": 1.8},
         "encoding": {"color": {"field": "k", "type": "nominal", "scale": {"domain": ["r", "d"], "range": ["#0000ff", "#ff0000"]}, "legend": {"orient": "top-right", "title": null, "labelExpr": "datum.label == 'r' ? 'Raw' : 'Denoised'"}}}},
        {"data": {"values": [{"t": 4425, "v": 112.5, "t2": -225.6, "v2": -197.5}, {"t": 4686, "v": 112.5, "t2": 4901.2, "v2": -197.5}]},
         "mark": {"type": "rule", "color": "#375623", "strokeWidth": 3, "strokeDash": [10, 4]},
         "encoding": {"x2": {"field": "t2"}, "y2": {"field": "v2"}}},
        {"data": {"values": [{"t": 4425, "t2": 4686, "v": 112.5, "v2": 245}]},
         "mark": {"type": "rect", "filled": false, "color": "#375623", "strokeWidth": 3, "strokeDash": [10, 4]},
         "encoding": {"x2": {"field": "t2"}, "y2": {"field": "v2"}}}
      ]
    },
    {"width": 1002, "height": 80, "data": {"values": []}, "mark": "point", "view": {"stroke": null}},
    {
      "width": 1002, "height": 150,
      "title": "000012",
      "data": {"name": "b5"},
      "transform": [{"fold": ["r", "d"], "as": ["k", "v"]}],
      "mark": {"type": "line", "strokeWidth": 1.5},
      "encoding": {
        "x": {"field": "t", "type": "quantitative", "title": null, "scale": {"domain": [4393.8, 4720.7], "nice": false, "zero": false}, "axis": {"values": [4400, 4450, 4500, 4550, 4600, 4650, 4700]}},
        "y": {"field": "v", "type": "quantitative", "title": null, "scale": {"domain": [101.6, 222.7], "nice": false, "zero": false}, "axis": {"values": [120, 140, 160, 180, 200, 220]}},
        "color": {"field": "k", "type": "nominal", "scale": {"domain": ["r", "d"], "range": ["#0000ff", "#ff0000"]}, "legend": {"orient": "top-left", "title": null, "labelExpr": "datum.label == 'r' ? 'Raw' : 'Denoised'"}}
      }
    },
    {"width": 1002, "height": 80, "data": {"values": []}, "mark": "point", "view": {"stroke": null}},
    {
      "width": 1002, "height": 150,
      "title": "000014",
      "encoding": {
        "x": {"field": "t", "type": "quantitative", "title": null, "scale": {"domain": [-225.3, 4893.7], "nice": false, "zero": false}, "axis": {"values": [0, 1000, 2000, 3000, 4000]}},
        "y": {"field": "v", "type": "quantitative", "title": null, "scale": {"domain": [-1.4, 208.4], "nice": false, "zero": false}, "axis": {"values": [0, 50, 100, 150, 200]}}
      },
      "layer": [
        {"data": {"name": "a7"}, "transform": [{"fold": ["r", "d"], "as": ["k", "v"]}], "mark": {"type": "line", "strokeWidth": 1.8},
         "encoding": {"color": {"field": "k", "type": "nominal", "scale": {"domain": ["r", "d"], "range": ["#0000ff", "#ff0000"]}, "legend": {"orient": "top-right", "title": null, "labelExpr": "datum.label == 'r' ? 'Raw' : 'Denoised'"}}}},
        {"data": {"name": "b7"}, "transform": [{"fold": ["r", "d"], "as": ["k", "v"]}], "mark": {"type": "line", "strokeWidth": 1.8},
         "encoding": {"color": {"field": "k", "type": "nominal", "scale": {"domain": ["r", "d"], "range": ["#0000ff", "#ff0000"]}, "legend": {"orient": "top-right", "title": null, "labelExpr": "datum.label == 'r' ? 'Raw' : 'Denoised'"}}}},
        {"data": {"values": [{"t": 4429, "v": 31.7, "t2": -225.3, "v2": -113.3}, {"t": 4689, "v": 31.7, "t2": 4893.7, "v2": -113.3}]},
         "mark": {"type": "rule", "color": "#375623", "strokeWidth": 3, "strokeDash": [10, 4]},
         "encoding": {"x2": {"field": "t2"}, "y2": {"field": "v2"}}},
        {"data": {"values": [{"t": 4429, "t2": 4689, "v": 31.7, "v2": 86.3}]},
         "mark": {"type": "rect", "filled": false, "color": "#375623", "strokeWidth": 3, "strokeDash": [10, 4]},
         "encoding": {"x2": {"field": "t2"}, "y2": {"field": "v2"}}}
      ]
    },
    {"width": 1002, "height": 80, "data": {"values": []}, "mark": "point", "view": {"stroke": null}},
    {
      "width": 1002, "height": 148,
      "title": "000014",
      "data": {"name": "b7"},
      "transform": [{"fold": ["r", "d"], "as": ["k", "v"]}],
      "mark": {"type": "line", "strokeWidth": 1.5},
      "encoding": {
        "x": {"field": "t", "type": "quantitative", "title": null, "scale": {"domain": [4349.4, 4673.6], "nice": false, "zero": false}, "axis": {"values": [4350, 4400, 4450, 4500, 4550, 4600, 4650], "tickSize": 3, "labelPadding": 1}},
        "y": {"field": "v", "type": "quantitative", "title": null, "scale": {"domain": [40.4, 79.9], "nice": false, "zero": false}, "axis": {"values": [45, 50, 55, 60, 65, 70, 75]}},
        "color": {"field": "k", "type": "nominal", "scale": {"domain": ["r", "d"], "range": ["#0000ff", "#ff0000"]}, "legend": {"orient": "top-right", "title": null, "labelExpr": "datum.label == 'r' ? 'Raw' : 'Denoised'"}}
      }
    }
  ]
}
